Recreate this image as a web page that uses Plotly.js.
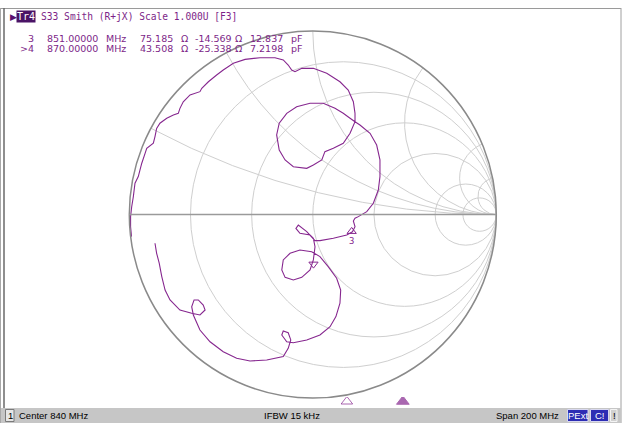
<!DOCTYPE html>
<html><head><meta charset="utf-8">
<script src="https://cdn.plot.ly/plotly-3.0.1.min.js"></script>
<style>html,body{margin:0;padding:0;background:#fff;} #chart{width:626px;height:423px;}</style>
</head><body><div id="chart"></div>
<script>
const gammaRe = [-0.988,-0.993,-0.993,-0.987,-0.978,-0.969,-0.951,-0.942,-0.932,-0.914,-0.905,-0.869,-0.860,-0.851,-0.833,-0.796,-0.760,-0.733,-0.724,-0.706,-0.669,-0.615,-0.605,-0.569,-0.524,-0.488,-0.433,-0.369,-0.288,-0.206,-0.161,-0.134,-0.115,-0.097,-0.060,0.003,0.076,0.148,0.193,0.221,0.230,0.230,
 0.203,0.166,0.112,0.066,0.049,0.003,-0.033,-0.106,-0.151,-0.183,-0.197,-0.183,-0.142,-0.088,-0.015,0.057,0.121,0.166,0.203,0.230,
 0.257,0.312,0.348,0.366,0.366,0.357,0.330,0.294,0.248,0.230,
 0.221,0.230,0.216,0.185,0.112,0.039,0.012,-0.033,-0.079,-0.092,-0.070,-0.015,0.003,0.012,0.003,-0.015,-0.060,-0.106,-0.151,-0.169,-0.161,-0.124,-0.070,-0.006,0.039,0.084,0.130,0.152,0.148,0.126,0.094,0.039,-0.033,-0.106,-0.142,-0.169,-0.161,-0.134,-0.120,-0.134,-0.161,-0.251,-0.342,-0.415,-0.488,-0.560,-0.615,-0.651,-0.660,-0.647,-0.624,-0.597,-0.587,-0.615,-0.660,-0.724,-0.778,-0.805,-0.823,-0.837,-0.851,-0.860];
const gammaIm = [-0.120,-0.066,-0.011,0.043,0.098,0.171,0.207,0.243,0.280,0.334,0.361,0.389,0.425,0.470,0.498,0.525,0.543,0.552,0.579,0.615,0.652,0.670,0.688,0.724,0.761,0.788,0.825,0.846,0.855,0.855,0.843,0.815,0.788,0.779,0.797,0.797,0.770,0.724,0.679,0.615,0.552,0.506,
 0.443,0.389,0.361,0.343,0.298,0.270,0.252,0.261,0.298,0.352,0.434,0.498,0.552,0.588,0.607,0.607,0.579,0.552,0.525,0.506,
 0.488,0.443,0.379,0.298,0.207,0.134,0.062,0.016,-0.011,-0.020,
 -0.035,-0.066,-0.094,-0.111,-0.129,-0.142,-0.142,-0.093,-0.057,-0.075,-0.102,-0.111,-0.129,-0.175,-0.247,-0.302,-0.342,-0.356,-0.342,-0.302,-0.247,-0.211,-0.193,-0.202,-0.229,-0.284,-0.347,-0.411,-0.483,-0.556,-0.611,-0.656,-0.683,-0.698,-0.693,-0.656,-0.634,-0.644,-0.683,-0.729,-0.774,-0.792,-0.798,-0.783,-0.747,-0.693,-0.629,-0.547,-0.502,-0.465,-0.465,-0.493,-0.520,-0.547,-0.538,-0.520,-0.465,-0.411,-0.338,-0.265,-0.211,-0.156];

// Marker readout
const Z0 = 50;
const markerNames = ['3', '4'];
const markerFreqMHz = [851, 870];
const markerR = [75.185, 43.508];
const markerX = [-14.569, -25.338];
const markerCpF = [12.837, 7.2198];

// Stimulus / status
const centerMHz = 840;
const spanMHz = 200;
const ifbwKHz = 15;

// Smith grid values
const gridR = [0.2, 0.5, 1, 2, 5, 10];
const gridX = [0.25, 0.6, 1, 2, 5, 10];

// Γ -> normalized impedance
const zRe = [], zIm = [];
for (let i = 0; i < gammaRe.length; i++) {
  const a = gammaRe[i], b = gammaIm[i];
  const d = (1 - a) * (1 - a) + b * b;
  zRe.push((1 - a * a - b * b) / d);
  zIm.push(2 * b / d);
}

const W = 626, H = 423;
const px = x => x / W;
const py = y => 1 - y / H;
const purple = '#86278f';
const txtPurple = '#7d1f88';

const traces = [
  {type: 'scattersmith', subplot: 'smith', real: zRe, imag: zIm, mode: 'lines',
   line: {color: purple, width: 1.1}, hoverinfo: 'skip'},
  {type: 'scattersmith', subplot: 'smith',
   real: [markerR[0] / Z0], imag: [markerX[0] / Z0], mode: 'markers+text',
   text: [markerNames[0]], textposition: 'bottom center',
   textfont: {family: 'DejaVu Sans Mono', size: 9, color: purple},
   marker: {symbol: 'triangle-up-open', size: 8, color: purple, line: {width: 1, color: purple}}},
  {type: 'scattersmith', subplot: 'smith',
   real: [markerR[1] / Z0], imag: [markerX[1] / Z0], mode: 'markers',
   marker: {symbol: 'triangle-down-open', size: 8, color: purple, line: {width: 1, color: purple}}},
  {type: 'scatter', xaxis: 'x', yaxis: 'y', x: markerFreqMHz, y: [0.5, 0.5], mode: 'markers',
   marker: {symbol: ['triangle-up-open', 'triangle-up'], size: [10, 11], color: purple, line: {width: 1, color: purple}},
   hoverinfo: 'skip'}
];

const shapes = [
  {type: 'line', xref: 'paper', yref: 'paper', x0: px(0), x1: px(621), y0: py(8.5), y1: py(8.5), line: {color: '#9a9a9a', width: 1}},
  {type: 'line', xref: 'paper', yref: 'paper', x0: px(0.5), x1: px(0.5), y0: py(8), y1: py(423), line: {color: '#a8a8a8', width: 1}},
  {type: 'line', xref: 'paper', yref: 'paper', x0: px(4), x1: px(4), y0: py(8), y1: py(408), line: {color: '#6a6a6a', width: 1.5}},
  {type: 'line', xref: 'paper', yref: 'paper', x0: px(621), x1: px(621), y0: py(8), y1: py(423), line: {color: '#a0a0a0', width: 1}},
  {type: 'rect', xref: 'paper', yref: 'paper', x0: px(1), x1: px(621), y0: py(423), y1: py(408), fillcolor: '#c6c6c6', line: {width: 0}},
  {type: 'rect', xref: 'paper', yref: 'paper', x0: px(5.5), x1: px(14), y0: py(421.5), y1: py(409.5), fillcolor: '#e6e6e6', line: {color: '#7a7a7a', width: 1}},
  {type: 'rect', xref: 'paper', yref: 'paper', x0: px(567.5), x1: px(588), y0: py(421.5), y1: py(409.5), fillcolor: '#2d2db4', line: {color: '#d8d8f0', width: 1}},
  {type: 'rect', xref: 'paper', yref: 'paper', x0: px(590.5), x1: px(608.5), y0: py(421.5), y1: py(409.5), fillcolor: '#2d2db4', line: {color: '#d8d8f0', width: 1}},
  {type: 'rect', xref: 'paper', yref: 'paper', x0: px(610.5), x1: px(617), y0: py(421.5), y1: py(409.5), fillcolor: '#d0d0d0', line: {color: '#f4f4f4', width: 1}}
];

const mono = 'DejaVu Sans Mono';
const sans = 'DejaVu Sans';
const ann = (x, y, text, opts) => Object.assign({xref: 'paper', yref: 'paper', x: px(x), y: py(y), text: text,
  showarrow: false, xanchor: 'left', yanchor: 'middle', borderpad: 0,
  font: {family: sans, size: 9.5, color: txtPurple}}, opts || {});

const annotations = [
  ann(9, 16.5, '▶', {font: {family: sans, size: 9, color: '#5a1070'}}),
  ann(15.5, 16.5, 'Tr4', {bgcolor: '#4a1366', font: {family: mono, size: 10, color: '#ffffff'}}),
  ann(40, 16.5, 'S33 Smith (R+jX) Scale 1.000U [F3]', {font: {family: mono, size: 9.6, color: txtPurple}})
];
const lineY = [38.6, 48.4];
const nameTxt = [markerNames[0], '>' + markerNames[1]];
for (let i = 0; i < 2; i++) {
  const y = lineY[i];
  annotations.push(ann(34.5, y, nameTxt[i], {xanchor: 'right'}));
  annotations.push(ann(98.5, y, markerFreqMHz[i].toFixed(5), {xanchor: 'right'}));
  annotations.push(ann(105, y, 'MHz'));
  annotations.push(ann(173.5, y, markerR[i].toFixed(3), {xanchor: 'right'}));
  annotations.push(ann(179.5, y, 'Ω'));
  annotations.push(ann(233, y, markerX[i].toFixed(3), {xanchor: 'right'}));
  annotations.push(ann(234, y, 'Ω'));
  annotations.push(ann(283.5, y, markerCpF[i].toPrecision(5), {xanchor: 'right'}));
  annotations.push(ann(290, y, 'pF'));
}
const stat = {family: 'Liberation Sans', size: 9.5, color: '#000000'};
annotations.push(ann(7, 415.5, '1', {font: stat}));
annotations.push(ann(18, 415.5, 'Center ' + centerMHz + ' MHz', {font: stat}));
annotations.push(ann(292, 415.5, 'IFBW ' + ifbwKHz + ' kHz', {font: stat, xanchor: 'center'}));
annotations.push(ann(560, 415.5, 'Span ' + spanMHz + ' MHz', {font: stat, xanchor: 'right'}));
annotations.push(ann(578, 415.5, 'PExt', {font: {family: 'Liberation Sans', size: 9.5, color: '#ffffff'}, xanchor: 'center'}));
annotations.push(ann(599.5, 415.5, 'C!', {font: {family: 'Liberation Sans', size: 9.5, color: '#ffffff'}, xanchor: 'center'}));
annotations.push(ann(614, 415.5, '!', {font: stat, xanchor: 'center'}));

const gridColor = '#cfcfcf';
const layout = {
  width: W, height: H,
  margin: {l: 0, r: 0, t: 0, b: 0},
  paper_bgcolor: '#ffffff', plot_bgcolor: 'rgba(0,0,0,0)',
  showlegend: false,
  smith: {
    domain: {x: [129.3 / W, 496.3 / W], y: [(H - 398.1) / H, (H - 31.1) / H]},
    bgcolor: '#ffffff',
    realaxis: {tickvals: gridR, showticklabels: false, ticks: '', showgrid: true, gridcolor: gridColor, gridwidth: 1,
               showline: true, linecolor: '#9a9a9a', linewidth: 1.5},
    imaginaryaxis: {tickvals: gridX, showticklabels: false, ticks: '', showgrid: true, gridcolor: gridColor, gridwidth: 1,
               showline: true, linecolor: '#8a8a8a', linewidth: 1.5}
  },
  xaxis: {domain: [20 / W, 609 / W], range: [centerMHz - spanMHz / 2, centerMHz + spanMHz / 2], visible: false, fixedrange: true},
  yaxis: {domain: [(H - 406) / H, (H - 397) / H], range: [0, 1], visible: false, fixedrange: true},
  shapes: shapes,
  annotations: annotations
};

Plotly.newPlot('chart', traces, layout, {displayModeBar: false, staticPlot: true});
</script></body></html>
